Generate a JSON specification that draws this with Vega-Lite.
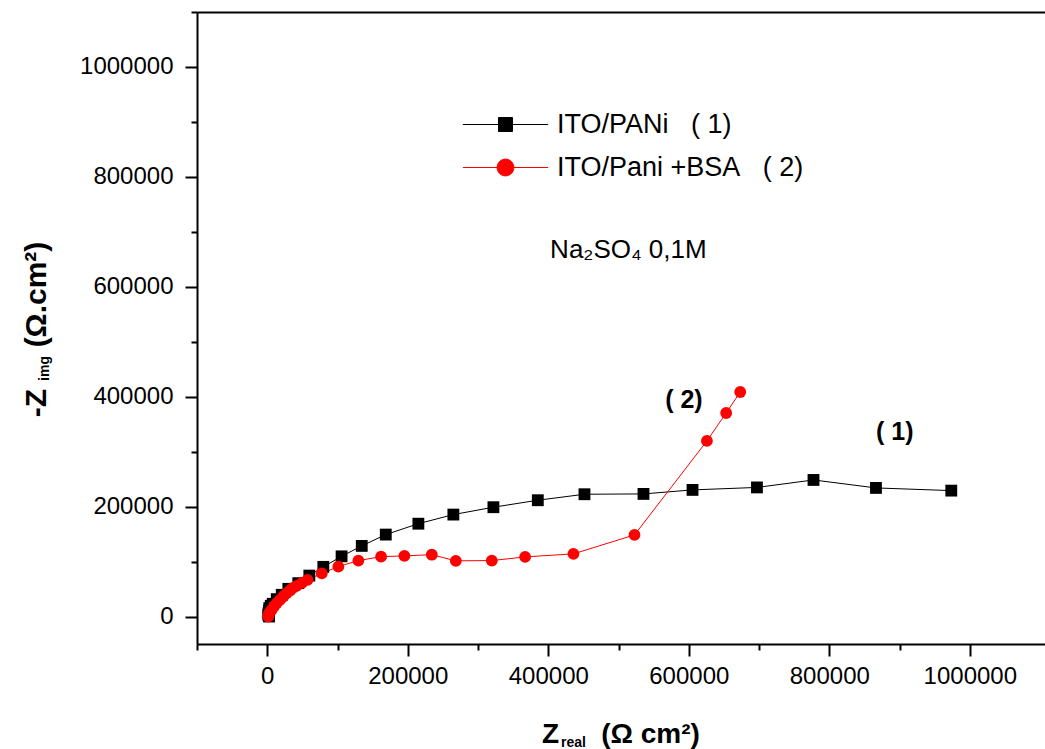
{
  "$schema": "https://vega.github.io/schema/vega-lite/v6.json",
  "autosize": "none",
  "width": 848,
  "height": 632,
  "padding": {"left": 197, "top": 12, "right": 0, "bottom": 105},
  "background": "white",
  "config": {
    "view": {"stroke": null},
    "font": "Liberation Sans",
    "axis": {"grid": false, "domainColor": "black", "tickColor": "black", "labelColor": "black", "titleColor": "black"}
  },
  "datasets": {
    "curves": [
      {"s": "ITO/PANi\u00a0\u00a0\u00a0(\u00a01)", "i": 0, "x": 2500, "y": 0},
      {"s": "ITO/PANi\u00a0\u00a0\u00a0(\u00a01)", "i": 1, "x": 1500, "y": 3000},
      {"s": "ITO/PANi\u00a0\u00a0\u00a0(\u00a01)", "i": 2, "x": 1800, "y": 6200},
      {"s": "ITO/PANi\u00a0\u00a0\u00a0(\u00a01)", "i": 3, "x": 2500, "y": 10500},
      {"s": "ITO/PANi\u00a0\u00a0\u00a0(\u00a01)", "i": 4, "x": 2900, "y": 15300},
      {"s": "ITO/PANi\u00a0\u00a0\u00a0(\u00a01)", "i": 5, "x": 5000, "y": 19500},
      {"s": "ITO/PANi\u00a0\u00a0\u00a0(\u00a01)", "i": 6, "x": 7800, "y": 23100},
      {"s": "ITO/PANi\u00a0\u00a0\u00a0(\u00a01)", "i": 7, "x": 13500, "y": 31600},
      {"s": "ITO/PANi\u00a0\u00a0\u00a0(\u00a01)", "i": 8, "x": 20600, "y": 39500},
      {"s": "ITO/PANi\u00a0\u00a0\u00a0(\u00a01)", "i": 9, "x": 30000, "y": 50400},
      {"s": "ITO/PANi\u00a0\u00a0\u00a0(\u00a01)", "i": 10, "x": 44200, "y": 60700},
      {"s": "ITO/PANi\u00a0\u00a0\u00a0(\u00a01)", "i": 11, "x": 59900, "y": 74500},
      {"s": "ITO/PANi\u00a0\u00a0\u00a0(\u00a01)", "i": 12, "x": 79800, "y": 90400},
      {"s": "ITO/PANi\u00a0\u00a0\u00a0(\u00a01)", "i": 13, "x": 105800, "y": 109500},
      {"s": "ITO/PANi\u00a0\u00a0\u00a0(\u00a01)", "i": 14, "x": 134500, "y": 128500},
      {"s": "ITO/PANi\u00a0\u00a0\u00a0(\u00a01)", "i": 15, "x": 168700, "y": 149100},
      {"s": "ITO/PANi\u00a0\u00a0\u00a0(\u00a01)", "i": 16, "x": 215100, "y": 168900},
      {"s": "ITO/PANi\u00a0\u00a0\u00a0(\u00a01)", "i": 17, "x": 264900, "y": 185500},
      {"s": "ITO/PANi\u00a0\u00a0\u00a0(\u00a01)", "i": 18, "x": 321900, "y": 198900},
      {"s": "ITO/PANi\u00a0\u00a0\u00a0(\u00a01)", "i": 19, "x": 385100, "y": 211600},
      {"s": "ITO/PANi\u00a0\u00a0\u00a0(\u00a01)", "i": 20, "x": 451500, "y": 222500},
      {"s": "ITO/PANi\u00a0\u00a0\u00a0(\u00a01)", "i": 21, "x": 535500, "y": 223100},
      {"s": "ITO/PANi\u00a0\u00a0\u00a0(\u00a01)", "i": 22, "x": 605300, "y": 230400},
      {"s": "ITO/PANi\u00a0\u00a0\u00a0(\u00a01)", "i": 23, "x": 697000, "y": 234900},
      {"s": "ITO/PANi\u00a0\u00a0\u00a0(\u00a01)", "i": 24, "x": 777500, "y": 248500},
      {"s": "ITO/PANi\u00a0\u00a0\u00a0(\u00a01)", "i": 25, "x": 866400, "y": 234000},
      {"s": "ITO/PANi\u00a0\u00a0\u00a0(\u00a01)", "i": 26, "x": 973600, "y": 229100},
      {"s": "ITO/Pani +BSA\u00a0\u00a0\u00a0(\u00a02)", "i": 0, "x": 1500, "y": 0},
      {"s": "ITO/Pani +BSA\u00a0\u00a0\u00a0(\u00a02)", "i": 1, "x": 2200, "y": 4900},
      {"s": "ITO/Pani +BSA\u00a0\u00a0\u00a0(\u00a02)", "i": 2, "x": 3900, "y": 8500},
      {"s": "ITO/Pani +BSA\u00a0\u00a0\u00a0(\u00a02)", "i": 3, "x": 6400, "y": 12200},
      {"s": "ITO/Pani +BSA\u00a0\u00a0\u00a0(\u00a02)", "i": 4, "x": 9600, "y": 18500},
      {"s": "ITO/Pani +BSA\u00a0\u00a0\u00a0(\u00a02)", "i": 5, "x": 13500, "y": 24400},
      {"s": "ITO/Pani +BSA\u00a0\u00a0\u00a0(\u00a02)", "i": 6, "x": 18200, "y": 30400},
      {"s": "ITO/Pani +BSA\u00a0\u00a0\u00a0(\u00a02)", "i": 7, "x": 22900, "y": 36400},
      {"s": "ITO/Pani +BSA\u00a0\u00a0\u00a0(\u00a02)", "i": 8, "x": 27400, "y": 42200},
      {"s": "ITO/Pani +BSA\u00a0\u00a0\u00a0(\u00a02)", "i": 9, "x": 32400, "y": 47300},
      {"s": "ITO/Pani +BSA\u00a0\u00a0\u00a0(\u00a02)", "i": 10, "x": 36700, "y": 52200},
      {"s": "ITO/Pani +BSA\u00a0\u00a0\u00a0(\u00a02)", "i": 11, "x": 42000, "y": 55800},
      {"s": "ITO/Pani +BSA\u00a0\u00a0\u00a0(\u00a02)", "i": 12, "x": 49500, "y": 61300},
      {"s": "ITO/Pani +BSA\u00a0\u00a0\u00a0(\u00a02)", "i": 13, "x": 57300, "y": 66700},
      {"s": "ITO/Pani +BSA\u00a0\u00a0\u00a0(\u00a02)", "i": 14, "x": 77600, "y": 78500},
      {"s": "ITO/Pani +BSA\u00a0\u00a0\u00a0(\u00a02)", "i": 15, "x": 101200, "y": 90900},
      {"s": "ITO/Pani +BSA\u00a0\u00a0\u00a0(\u00a02)", "i": 16, "x": 129700, "y": 101800},
      {"s": "ITO/Pani +BSA\u00a0\u00a0\u00a0(\u00a02)", "i": 17, "x": 162000, "y": 108900},
      {"s": "ITO/Pani +BSA\u00a0\u00a0\u00a0(\u00a02)", "i": 18, "x": 195200, "y": 110400},
      {"s": "ITO/Pani +BSA\u00a0\u00a0\u00a0(\u00a02)", "i": 19, "x": 234200, "y": 112500},
      {"s": "ITO/Pani +BSA\u00a0\u00a0\u00a0(\u00a02)", "i": 20, "x": 268400, "y": 101300},
      {"s": "ITO/Pani +BSA\u00a0\u00a0\u00a0(\u00a02)", "i": 21, "x": 319600, "y": 101800},
      {"s": "ITO/Pani +BSA\u00a0\u00a0\u00a0(\u00a02)", "i": 22, "x": 367000, "y": 108500},
      {"s": "ITO/Pani +BSA\u00a0\u00a0\u00a0(\u00a02)", "i": 23, "x": 435800, "y": 114000},
      {"s": "ITO/Pani +BSA\u00a0\u00a0\u00a0(\u00a02)", "i": 24, "x": 522700, "y": 148500},
      {"s": "ITO/Pani +BSA\u00a0\u00a0\u00a0(\u00a02)", "i": 25, "x": 625800, "y": 319500},
      {"s": "ITO/Pani +BSA\u00a0\u00a0\u00a0(\u00a02)", "i": 26, "x": 653200, "y": 370400},
      {"s": "ITO/Pani +BSA\u00a0\u00a0\u00a0(\u00a02)", "i": 27, "x": 673200, "y": 408500}
    ],
    "notes": [
      {"k": "b", "t": "(\u00a02)", "x": 566400, "y": 378900},
      {"k": "b", "t": "(\u00a01)", "x": 866600, "y": 321300},
      {"k": "r", "t": "Na\u2082SO\u2084 0,1M", "x": 402600, "y": 651600}
    ]
  },
  "resolve": {"axis": {"x": "independent", "y": "independent"}},
  "layer": [
    {
      "data": {"name": "curves"},
      "transform": [{"filter": "datum.i < 0"}],
      "mark": {"type": "point", "filled": true, "opacity": 1},
      "encoding": {
        "x": {"field": "x", "type": "quantitative", "scale": {"domain": [-100000, 1107000], "nice": false, "zero": false}, "axis": null},
        "y": {"field": "y", "type": "quantitative", "scale": {"domain": [-50000, 1100000], "nice": false, "zero": false}, "axis": null},
        "fill": {
          "field": "s", "type": "nominal",
          "scale": {"domain": ["ITO/PANi\u00a0\u00a0\u00a0(\u00a01)", "ITO/Pani +BSA\u00a0\u00a0\u00a0(\u00a02)"], "range": ["#000000", "#ff0000"]}
        },
        "stroke": {
          "field": "s", "type": "nominal",
          "scale": {"domain": ["ITO/PANi\u00a0\u00a0\u00a0(\u00a01)", "ITO/Pani +BSA\u00a0\u00a0\u00a0(\u00a02)"], "range": ["#000000", "#ff0000"]}
        },
        "shape": {
          "field": "s", "type": "nominal",
          "scale": {
            "domain": ["ITO/PANi\u00a0\u00a0\u00a0(\u00a01)", "ITO/Pani +BSA\u00a0\u00a0\u00a0(\u00a02)"],
            "range": ["M-6.1,0H6.1M-1,-1H1V1H-1Z", "M-6.1,0H6.1M1.2,0A1.2,1.2,0,1,1,-1.2,0A1.2,1.2,0,1,1,1.2,0Z"]
          },
          "legend": {
            "orient": "none", "legendX": 295, "legendY": 99, "title": null, "padding": 0,
            "symbolSize": 196, "symbolStrokeWidth": 1, "symbolOpacity": 1,
            "labelFontSize": 27, "labelFont": "Liberation Sans", "labelColor": "black", "labelOffset": 38, "labelLimit": 500,
            "rowPadding": 15
          }
        }
      }
    },
    {
      "data": {"name": "curves"},
      "transform": [{"filter": "indexof(datum.s, 'BSA') < 0"}],
      "mark": {"type": "line", "strokeWidth": 1, "color": "#000000"},
      "encoding": {
        "x": {
          "field": "x", "type": "quantitative",
          "scale": {"domain": [-100000, 1107000], "nice": false, "zero": false},
          "axis": {
            "orient": "bottom", "values": [0, 200000, 400000, 600000, 800000, 1000000], "format": "d",
            "domain": true, "domainWidth": 2, "tickSize": 12, "tickWidth": 2,
            "labelFontSize": 24, "labelFont": "Liberation Sans", "labelPadding": 8, "labelFlush": false, "labelOverlap": false,
            "title": "Z", "titleFont": "Liberation Sans", "titleFontSize": 28, "titleFontWeight": "bold",
            "titleX": 353, "titleY": 98, "titleBaseline": "alphabetic", "titleAlign": "center"
          }
        },
        "y": {
          "field": "y", "type": "quantitative",
          "scale": {"domain": [-50000, 1100000], "nice": false, "zero": false},
          "axis": {
            "orient": "left", "values": [0, 200000, 400000, 600000, 800000, 1000000], "format": "d",
            "domain": true, "domainWidth": 2, "tickSize": 12, "tickWidth": 2,
            "labelFontSize": 24, "labelFont": "Liberation Sans", "labelPadding": 12, "labelOverlap": false,
            "title": "-Z\u00a0\u00a0\u00a0\u00a0\u00a0(\u03a9.cm\u00b2)", "titleFont": "Liberation Sans", "titleFontSize": 30, "titleFontWeight": "bold",
            "titleX": -152, "titleY": 317, "titleAngle": -90, "titleBaseline": "alphabetic", "titleAlign": "center"
          }
        },
        "order": {"field": "i", "type": "quantitative"}
      }
    },
    {
      "data": {"name": "curves"},
      "transform": [{"filter": "indexof(datum.s, 'BSA') >= 0"}],
      "mark": {"type": "line", "strokeWidth": 1, "color": "#ff0000"},
      "encoding": {
        "x": {
          "field": "x", "type": "quantitative",
          "scale": {"domain": [-100000, 1107000], "nice": false, "zero": false},
          "axis": {
            "orient": "bottom", "values": [], "domain": false, "labels": false, "ticks": false,
            "title": "(\u03a9 cm\u00b2)", "titleFont": "Liberation Sans", "titleFontSize": 28, "titleFontWeight": "bold",
            "titleX": 453, "titleY": 98, "titleBaseline": "alphabetic", "titleAlign": "center"
          }
        },
        "y": {"field": "y", "type": "quantitative", "scale": {"domain": [-50000, 1100000], "nice": false, "zero": false}, "axis": null},
        "order": {"field": "i", "type": "quantitative"}
      }
    },
    {
      "data": {"name": "curves"},
      "transform": [{"filter": "indexof(datum.s, 'BSA') < 0"}],
      "mark": {"type": "point", "filled": true, "shape": "square", "size": 140, "opacity": 1, "color": "#000000"},
      "encoding": {
        "x": {
          "field": "x", "type": "quantitative",
          "scale": {"domain": [-100000, 1107000], "nice": false, "zero": false},
          "axis": {
            "orient": "bottom", "values": [-100000, 100000, 300000, 500000, 700000, 900000],
            "domain": false, "labels": false, "tickSize": 6, "tickWidth": 2,
            "title": "real", "titleFont": "Liberation Sans", "titleFontSize": 14, "titleFontWeight": "bold",
            "titleX": 376, "titleY": 102, "titleBaseline": "alphabetic", "titleAlign": "center"
          }
        },
        "y": {
          "field": "y", "type": "quantitative",
          "scale": {"domain": [-50000, 1100000], "nice": false, "zero": false},
          "axis": {
            "orient": "left", "values": [100000, 300000, 500000, 700000, 900000, 1100000],
            "domain": false, "labels": false, "tickSize": 6, "tickWidth": 2,
            "title": "img", "titleFont": "Liberation Sans", "titleFontSize": 14, "titleFontWeight": "bold",
            "titleX": -149, "titleY": 356, "titleAngle": -90, "titleBaseline": "alphabetic", "titleAlign": "center"
          }
        }
      }
    },
    {
      "data": {"name": "curves"},
      "transform": [{"filter": "indexof(datum.s, 'BSA') >= 0"}],
      "mark": {"type": "point", "filled": true, "shape": "circle", "size": 140, "opacity": 1, "color": "#ff0000"},
      "encoding": {
        "x": {"field": "x", "type": "quantitative", "scale": {"domain": [-100000, 1107000], "nice": false, "zero": false}, "axis": null},
        "y": {"field": "y", "type": "quantitative", "scale": {"domain": [-50000, 1100000], "nice": false, "zero": false}, "axis": null}
      }
    },
    {
      "data": {"name": "notes"},
      "transform": [{"filter": "datum.k == 'r'"}],
      "mark": {"type": "text", "align": "left", "baseline": "alphabetic", "font": "Liberation Sans", "fontSize": 26, "color": "black"},
      "encoding": {
        "x": {
          "field": "x", "type": "quantitative",
          "scale": {"domain": [-100000, 1107000], "nice": false, "zero": false},
          "axis": {"orient": "top", "domain": true, "domainWidth": 2, "domainColor": "black", "ticks": false, "labels": false, "title": null}
        },
        "y": {"field": "y", "type": "quantitative", "scale": {"domain": [-50000, 1100000], "nice": false, "zero": false}, "axis": null},
        "text": {"field": "t"}
      }
    },
    {
      "data": {"name": "notes"},
      "transform": [{"filter": "datum.k == 'b'"}],
      "mark": {"type": "text", "align": "left", "baseline": "alphabetic", "font": "Liberation Sans", "fontSize": 25, "fontWeight": "bold", "color": "black"},
      "encoding": {
        "x": {"field": "x", "type": "quantitative", "scale": {"domain": [-100000, 1107000], "nice": false, "zero": false}, "axis": null},
        "y": {"field": "y", "type": "quantitative", "scale": {"domain": [-50000, 1100000], "nice": false, "zero": false}, "axis": null},
        "text": {"field": "t"}
      }
    }
  ]
}
